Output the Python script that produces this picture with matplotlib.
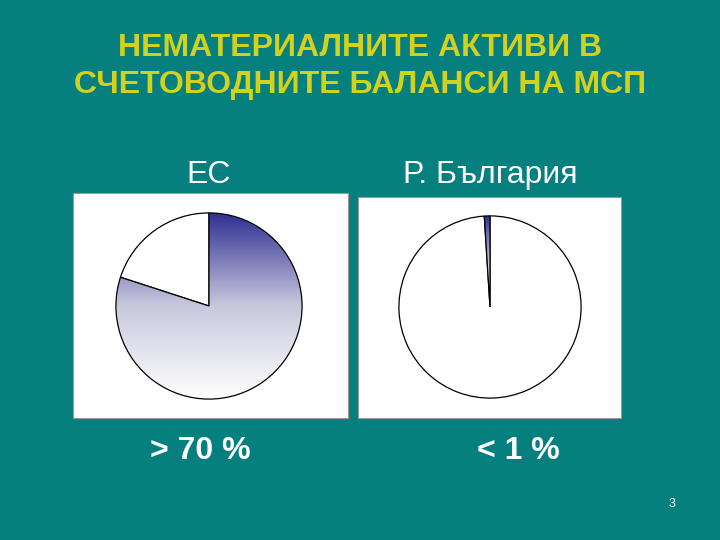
import numpy as np
import matplotlib
matplotlib.use("Agg")
import matplotlib.pyplot as plt
from matplotlib.colors import LinearSegmentedColormap
from matplotlib.patches import Rectangle

plt.rcParams['font.family'] = ['Liberation Sans', 'DejaVu Sans']

title_lines = ['НЕМАТЕРИАЛНИТЕ АКТИВИ В', 'СЧЕТОВОДНИТЕ БАЛАНСИ НА МСП']
regions = ['ЕС', 'Р. България']
shares_eu = [80, 20]
shares_bg = [1, 99]
share_labels = ['> 70 %', '< 1 %']
page_no = '3'

bg = '#067f7f'
title_col = '#d2d21e'
W, H = 720, 540

fig = plt.figure(figsize=(7.2, 5.4), dpi=100, facecolor=bg)

def box(x, y, w, h):
    # pixel box (top-left origin) -> figure fraction
    return [x / W, 1 - (y + h) / H, w / W, h / H]

grad_cmap = LinearSegmentedColormap.from_list('g', ['#ffffff', '#c8c8de', '#2e2e92'])

# white panels, behind the pie axes
for (x, y, w, h) in [(73, 193, 275, 225), (358, 197, 263, 221)]:
    b = box(x, y, w, h)
    fig.add_artist(Rectangle((b[0], b[1]), b[2], b[3], transform=fig.transFigure,
                             facecolor='white', edgecolor='#9a9a9a', lw=0.8, zorder=-5))

def draw_pie(ax, vals, ccw):
    wedges, _ = ax.pie(vals, startangle=90, counterclock=ccw, radius=1,
                       colors=['white', 'white'],
                       wedgeprops=dict(edgecolor='black', linewidth=0.9))
    w = wedges[0]
    ext = w.get_path().get_extents()
    grad = np.linspace(0, 1, 256).reshape(-1, 1)
    im = ax.imshow(grad, extent=[ext.x0, ext.x1, ext.y0, ext.y1], origin='lower',
                   cmap=grad_cmap, aspect='auto', zorder=w.get_zorder() + 0.5)
    im.set_clip_path(w)
    w.set_facecolor('none')
    w.set_zorder(im.get_zorder() + 0.5)
    ax.set_xlim(-1.01, 1.01)
    ax.set_ylim(-1.01, 1.01)
    ax.set_aspect('equal')
    ax.axis('off')

ax1 = fig.add_axes(box(115, 212, 188, 188))
ax1.patch.set_alpha(0)
draw_pie(ax1, shares_eu, False)
ax2 = fig.add_axes(box(398, 215, 184, 184))
ax2.patch.set_alpha(0)
draw_pie(ax2, shares_bg, True)

fig.text(360 / W, 1 - 48 / H, title_lines[0], ha='center', va='center',
         fontsize=23, fontweight='bold', color=title_col)
fig.text(360 / W, 1 - 85 / H, title_lines[1], ha='center', va='center',
         fontsize=23, fontweight='bold', color=title_col)

fig.text(209 / W, 1 - 175 / H, regions[0], ha='center', va='center', fontsize=23, color='white')
fig.text(490 / W, 1 - 175 / H, regions[1], ha='center', va='center', fontsize=23, color='white')

fig.text(200 / W, 1 - 451 / H, share_labels[0], ha='center', va='center',
         fontsize=23, fontweight='bold', color='white')
fig.text(518 / W, 1 - 451 / H, share_labels[1], ha='center', va='center',
         fontsize=23, fontweight='bold', color='white')

fig.text(672 / W, 1 - 504 / H, page_no, ha='center', va='center', fontsize=9, color='white')

fig.savefig('out.png', dpi=100, facecolor=bg)
